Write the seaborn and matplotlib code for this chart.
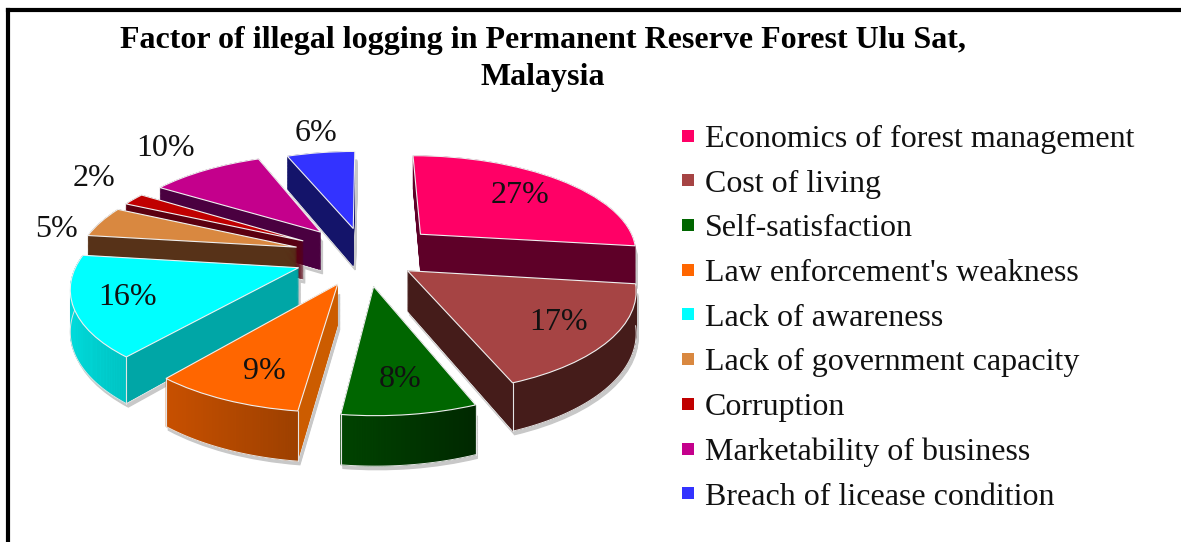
import numpy as np
import matplotlib
matplotlib.use("Agg")
import matplotlib.pyplot as plt
import seaborn as sns
from matplotlib.transforms import Transform, Affine2D
from matplotlib.patches import PathPatch
from matplotlib.lines import Line2D

categories = ["Economics of forest management", "Cost of living", "Self-satisfaction",
              "Law enforcement's weakness", "Lack of awareness", "Lack of government capacity",
              "Corruption", "Marketability of business", "Breach of licease condition"]
values = [27, 17, 8, 9, 16, 5, 2, 10, 6]
top_colors = ["#FF0066", "#A64444", "#006600", "#FF6600", "#00FFFF", "#D98840", "#C00000", "#C4008C", "#3333FF"]
wall_colors = ["#5E0028", "#451C1A", "#003A00", "#CC5C00", "#00A6A6", "#573218", "#5A0010", "#4A0040", "#14146A"]
arc_left = ["#5E0028", "#451C1A", "#004400", "#C85000", "#00DCDC", "#573218", "#5A0010", "#4A0040", "#14146A"]
arc_right = ["#5E0028", "#451C1A", "#002800", "#9C4000", "#00C4C4", "#573218", "#5A0010", "#4A0040", "#14146A"]
title = "Factor of illegal logging in Permanent Reserve Forest Ulu Sat,\nMalaysia"

sns.set_theme(style="white")
plt.rcParams["font.family"] = ["Liberation Serif", "DejaVu Serif"]

W, H = 1181, 542
fig = plt.figure(figsize=(W / 100, H / 100), dpi=100, facecolor="white")
ax = fig.add_axes([8 / W, 0, 1 - 8 / W, 1 - 10 / H])

CX, CY, FX, FY, K, D0 = 365, 256, 219, 97.5, 0.16, 40


class Persp(Transform):
    input_dims = output_dims = 2

    def __init__(self, z=0.0):
        super().__init__()
        self.z = z

    def transform_non_affine(self, values):
        v = np.asarray(values, float)
        s = 1 + K * v[:, 1]
        return np.column_stack([CX + FX * v[:, 0] / s, CY - (FY * v[:, 1] - self.z * D0) / s])


explode = [0.35, 0.24, 0.3, 0.3, 0.32, 0.33, 0.33, 0.33, 0.3]
label_r = [0.70, 0.77, 0.76, 0.77, 0.77, 1.17, 1.36, 1.40, 1.3]
label_rot = [0, 0, 0, 3, 0, 7, -5, 0, -1]
wedges, _ = ax.pie(values, explode=explode, startangle=90, counterclock=False,
                   colors=sns.color_palette(top_colors), radius=1.0)
ax.set_frame_on(True)
ax.set_aspect("auto")
ax.set_xlim(8, W)
ax.set_ylim(H, 10)

data = ax.transData
mids = [np.deg2rad((w.theta1 + w.theta2) / 2) for w in wedges]
order = np.argsort([-np.sin(a) for a in mids])

# soft grey drop shadow beneath every slice
for w in wedges:
    for z in np.linspace(0.2, 1.03, 30):
        ax.add_patch(PathPatch(w.get_path(), facecolor="#C8C8C8", edgecolor="#C8C8C8", lw=1.0,
                               transform=Persp(z) + Affine2D().translate(2, 2) + data,
                               zorder=2))


def mix(c1, c2, f):
    a, b = np.array(matplotlib.colors.to_rgb(c1)), np.array(matplotlib.colors.to_rgb(c2))
    return tuple(a + (b - a) * f)


zo = 3
for i in order:
    w = wedges[i]
    path = w.get_path()
    w.set_visible(False)
    for n, z in enumerate(np.linspace(1, 0, 45)):
        ax.add_patch(PathPatch(path, facecolor=wall_colors[i],
                               edgecolor="#E8E8E8" if n == 0 else wall_colors[i],
                               lw=0.7 if n == 0 else 0.3, transform=Persp(z) + data, zorder=zo))
        zo += 1
    # shaded outer wall, following the slice's own arc
    cx, cy = w.center
    th = np.deg2rad(np.linspace(w.theta1, w.theta2, 90))
    th = th[np.sin(th) < 0.45]
    if len(th) > 1 and np.sin(th).min() < -0.2:
        ring = np.column_stack([cx + np.cos(th), cy + np.sin(th)])
        up, low = Persp(0).transform_non_affine(ring), Persp(1).transform_non_affine(ring)
        sin_th = np.sin(th)
        x0, x1 = up[:, 0].min(), up[:, 0].max()
        for j in range(len(up) - 1):
            f = (up[j, 0] - x0) / max(1.0, x1 - x0)
            col = mix(arc_left[i], arc_right[i], f)
            ax.fill([up[j, 0], up[j + 1, 0], low[j + 1, 0], low[j, 0]],
                    [up[j, 1], up[j + 1, 1], low[j + 1, 1], low[j, 1]],
                    facecolor=col, edgecolor=col, lw=0.4, zorder=zo)
        zo += 1
        ax.plot(low[:, 0], low[:, 1], color="#E4E4E4", lw=0.7, zorder=zo)
        for e in (0, -1):
            if sin_th[e] < -0.2:
                ax.plot([up[e, 0], low[e, 0]], [up[e, 1], low[e, 1]], color="#E4E4E4", lw=0.8, zorder=zo)
        zo += 1
    ax.add_patch(PathPatch(path, facecolor=top_colors[i], edgecolor="#F0F0F0", lw=0.8,
                           transform=Persp(0) + data, zorder=zo))
    zo += 1
    a = mids[i] + np.deg2rad(label_rot[i])
    ax.text(cx + label_r[i] * np.cos(a), cy + label_r[i] * np.sin(a), f"{values[i]}%",
            transform=Persp(0) + data, ha="center", va="center",
            fontsize=23, color="#111111", zorder=2000)

ax.set_xlim(8, W)
ax.set_ylim(H, 10)
ax.set_xticks([])
ax.set_yticks([])
for s in ["right", "bottom"]:
    ax.spines[s].set_visible(False)
for s in ["left", "top"]:
    ax.spines[s].set_visible(True)
    ax.spines[s].set_color("black")
    ax.spines[s].set_linewidth(3)

ax.text(543, 59, title, ha="center", va="center", fontsize=23, fontweight="bold",
        color="black", linespacing=1.35, zorder=2000)

handles = [Line2D([], [], ls="", marker="s", ms=8.6, mew=0, color=c) for c in top_colors]
leg = ax.legend(handles, categories, loc="upper left", bbox_to_anchor=(681.6 / W, 1 - 124.5 / H),
                bbox_transform=fig.transFigure, frameon=False, fontsize=23, labelspacing=0.48,
                handlelength=0.4, handletextpad=0.33, borderpad=0, borderaxespad=0)
leg.set_zorder(2000)
for t in leg.get_texts():
    t.set_color("#111111")

fig.savefig("out.png", dpi=100)
